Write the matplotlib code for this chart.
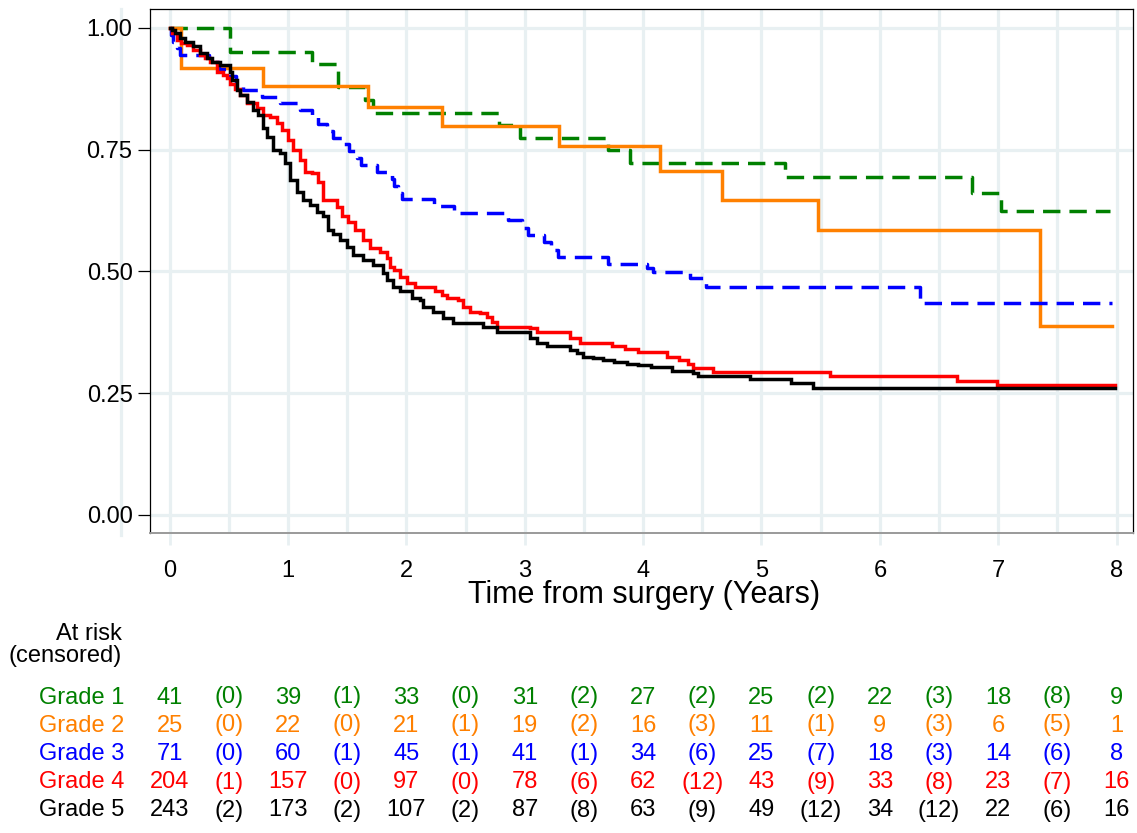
import numpy as np
import matplotlib
matplotlib.use("Agg")
import matplotlib.pyplot as plt
import matplotlib.transforms as mtransforms
from matplotlib.lines import Line2D

plt.rcParams['font.family'] = ['Liberation Sans', 'DejaVu Sans']
plt.rcParams['lines.scale_dashes'] = False

# ---------------- data ----------------
grades = ["Grade 1", "Grade 2", "Grade 3", "Grade 4", "Grade 5"]
colors = ["#008000", "#FF8000", "#0000FF", "#FF0000", "#000000"]
dashed = [True, False, True, False, False]

g1_t = [0, 0.51, 1.20, 1.42, 1.65, 1.72, 2.78, 2.96, 3.70, 3.89, 5.20, 6.78, 7.02, 7.94]
g1_s = [1.0, 0.951, 0.927, 0.878, 0.853, 0.826, 0.800, 0.775, 0.750, 0.723, 0.695, 0.661, 0.624, 0.624]

g2_t = [0, 0.10, 0.79, 1.68, 2.30, 3.29, 4.14, 4.67, 5.48, 7.35, 7.96]
g2_s = [1.0, 0.918, 0.880, 0.838, 0.799, 0.758, 0.707, 0.647, 0.585, 0.388, 0.388]

g3_t = [0, 0.01, 0.03, 0.06, 0.09, 0.33, 0.42, 0.50, 0.56, 0.62, 0.78, 0.93, 1.10, 1.20,
        1.25, 1.33, 1.38, 1.47, 1.52, 1.58, 1.62, 1.75, 1.88, 1.90, 1.93, 1.96, 2.23, 2.40,
        2.86, 2.98, 3.03, 3.16, 3.22, 3.28, 3.70, 4.03, 4.08, 4.40, 4.53, 6.34, 7.96]
g3_s = [1.0, 0.986, 0.972, 0.958, 0.944, 0.930, 0.916, 0.901, 0.887, 0.873, 0.859, 0.845,
        0.831, 0.817, 0.803, 0.789, 0.775, 0.761, 0.747, 0.733, 0.719, 0.705, 0.690, 0.676,
        0.662, 0.648, 0.634, 0.620, 0.606, 0.590, 0.575, 0.561, 0.545, 0.530, 0.516, 0.508,
        0.499, 0.487, 0.468, 0.435, 0.435]

g4_t = [0, 0.02, 0.06, 0.10, 0.145, 0.20, 0.258, 0.30, 0.342, 0.40, 0.45, 0.483, 0.511,
        0.55, 0.595, 0.652, 0.736, 0.792, 0.849, 0.905, 0.948, 1.003, 1.046, 1.102, 1.144,
        1.201, 1.257, 1.299, 1.412, 1.454, 1.510, 1.567, 1.637, 1.693, 1.778, 1.834, 1.862,
        1.900, 1.947, 2.003, 2.073, 2.242, 2.300, 2.341, 2.439, 2.481, 2.538, 2.622, 2.679,
        2.721, 2.764, 3.045, 3.101, 3.383, 3.467, 3.74, 3.85, 3.955, 4.20, 4.30, 4.376, 4.42,
        4.594, 5.58, 6.655, 6.99, 7.99]
g4_s = [1.0, 0.990, 0.975, 0.970, 0.965, 0.955, 0.945, 0.938, 0.931, 0.910, 0.903, 0.897,
        0.886, 0.874, 0.862, 0.845, 0.835, 0.821, 0.818, 0.804, 0.791, 0.770, 0.749, 0.729,
        0.705, 0.702, 0.684, 0.647, 0.633, 0.613, 0.602, 0.585, 0.565, 0.548, 0.541, 0.527,
        0.510, 0.503, 0.489, 0.476, 0.469, 0.459, 0.452, 0.445, 0.441, 0.428, 0.417, 0.414,
        0.407, 0.397, 0.387, 0.383, 0.376, 0.363, 0.353, 0.347, 0.340, 0.335, 0.325, 0.318,
        0.310, 0.301, 0.294, 0.285, 0.276, 0.267, 0.267]

g5_t = [0, 0.02, 0.046, 0.089, 0.131, 0.201, 0.258, 0.314, 0.36, 0.427, 0.511, 0.525, 0.567,
        0.595, 0.652, 0.708, 0.750, 0.792, 0.821, 0.877, 0.933, 0.976, 1.018, 1.074, 1.130,
        1.187, 1.243, 1.299, 1.341, 1.383, 1.440, 1.497, 1.552, 1.637, 1.721, 1.806, 1.834,
        1.890, 1.947, 2.045, 2.116, 2.144, 2.228, 2.313, 2.397, 2.650, 2.764, 3.045, 3.101,
        3.186, 3.383, 3.439, 3.495, 3.580, 3.665, 3.752, 3.868, 3.955, 4.07, 4.246, 4.42,
        4.463, 4.899, 5.247, 5.435, 7.99]
g5_s = [1.0, 0.995, 0.989, 0.979, 0.972, 0.962, 0.948, 0.938, 0.931, 0.924, 0.910, 0.893,
        0.873, 0.862, 0.849, 0.832, 0.821, 0.794, 0.777, 0.749, 0.743, 0.722, 0.688, 0.664,
        0.647, 0.637, 0.623, 0.613, 0.585, 0.578, 0.565, 0.551, 0.534, 0.524, 0.513, 0.496,
        0.483, 0.469, 0.459, 0.445, 0.441, 0.428, 0.417, 0.404, 0.394, 0.387, 0.376, 0.363,
        0.353, 0.346, 0.339, 0.332, 0.325, 0.322, 0.318, 0.315, 0.311, 0.308, 0.303, 0.296,
        0.291, 0.285, 0.279, 0.272, 0.261, 0.261]

times = [g1_t, g2_t, g3_t, g4_t, g5_t]
survs = [g1_s, g2_s, g3_s, g4_s, g5_s]

# number at risk at 0,1,...,8 and censored in between
risk_g1 = [41, 39, 33, 31, 27, 25, 22, 18, 9]
cens_g1 = [0, 1, 0, 2, 2, 2, 3, 8]
risk_g2 = [25, 22, 21, 19, 16, 11, 9, 6, 1]
cens_g2 = [0, 0, 1, 2, 3, 1, 3, 5]
risk_g3 = [71, 60, 45, 41, 34, 25, 18, 14, 8]
cens_g3 = [0, 1, 1, 1, 6, 7, 3, 6]
risk_g4 = [204, 157, 97, 78, 62, 43, 33, 23, 16]
cens_g4 = [1, 0, 0, 6, 12, 9, 8, 7]
risk_g5 = [243, 173, 107, 87, 63, 49, 34, 22, 16]
cens_g5 = [2, 2, 2, 8, 9, 12, 12, 6]
risks = [risk_g1, risk_g2, risk_g3, risk_g4, risk_g5]
censs = [cens_g1, cens_g2, cens_g3, cens_g4, cens_g5]

xticks = [0, 1, 2, 3, 4, 5, 6, 7, 8]
yticks = [0.0, 0.25, 0.5, 0.75, 1.0]
ytick_labels = ["0.00", "0.25", "0.50", "0.75", "1.00"]
xlabel = "Time from surgery (Years)"

# ---------------- figure ----------------
W, H = 1137, 833
fig = plt.figure(figsize=(W / 100, H / 100), dpi=100)
fig.patch.set_facecolor("white")
ax = fig.add_axes([150 / W, 1 - 533 / H, (1133 - 150) / W, (533 - 9) / H])

gridc = "#E8F0F2"
ax.set_xlim(-0.165, 8.138)
ax.set_ylim(-0.037, 1.039)

for gx in np.arange(0, 8.01, 0.5):
    ax.axvline(gx, color=gridc, lw=2.3, zorder=0)
for gy in yticks:
    ax.axhline(gy, color=gridc, lw=2.3, zorder=0)

fig.add_artist(Line2D([121 / W, 121 / W], [1 - 9 / H, 1 - 535 / H],
                      transform=fig.transFigure, color=gridc, lw=2.3, zorder=0))

for t, s, c, d in zip(times, survs, colors, dashed):
    line, = ax.step(t, s, where="post", color=c, lw=2.5, zorder=3,
                    solid_joinstyle="miter")
    if d:
        line.set_dashes((12.5, 6.5))

ax.set_xticks(xticks)
ax.set_xticklabels([str(v) for v in xticks], fontsize=17)
ax.set_yticks(yticks)
ax.set_yticklabels(ytick_labels, fontsize=17)
ax.tick_params(axis="x", direction="out", length=8.6, width=2.0, color=gridc, pad=10.5)
ax.tick_params(axis="y", direction="out", length=8.6, width=0.9, color="black", pad=4.0)

for side in ["left", "top", "right"]:
    ax.spines[side].set_color("black")
    ax.spines[side].set_linewidth(0.9)
ax.spines["bottom"].set_color("#9A9A9A")
ax.spines["bottom"].set_linewidth(1.4)

fig.text(644 / W, 1 - 603 / H, xlabel, ha="center", va="baseline", fontsize=22)

# ---------------- risk table ----------------
fig.text(122 / W, 1 - 640 / H, "At risk", ha="right", va="baseline", fontsize=17)
fig.text(122 / W, 1 - 662 / H, "(censored)", ha="right", va="baseline", fontsize=17)

trans = mtransforms.blended_transform_factory(ax.transData, fig.transFigure)
row_base = [703.5, 731.5, 760.0, 788.5, 816.5]
for g, c, rk, cn, yb in zip(grades, colors, risks, censs, row_base):
    yf = 1 - yb / H
    fig.text(124 / W, yf, g, ha="right", va="baseline", fontsize=17, color=c)
    for i, n in enumerate(rk):
        ax.text(xticks[i], yf, str(n), transform=trans, ha="center", va="baseline",
                fontsize=17, color=c, clip_on=False)
    for i, n in enumerate(cn):
        ax.text(xticks[i] + 0.5, yf, "(%d)" % n, transform=trans, ha="center",
                va="baseline", fontsize=17, color=c, clip_on=False)

fig.savefig("out.png", dpi=100, facecolor="white")
